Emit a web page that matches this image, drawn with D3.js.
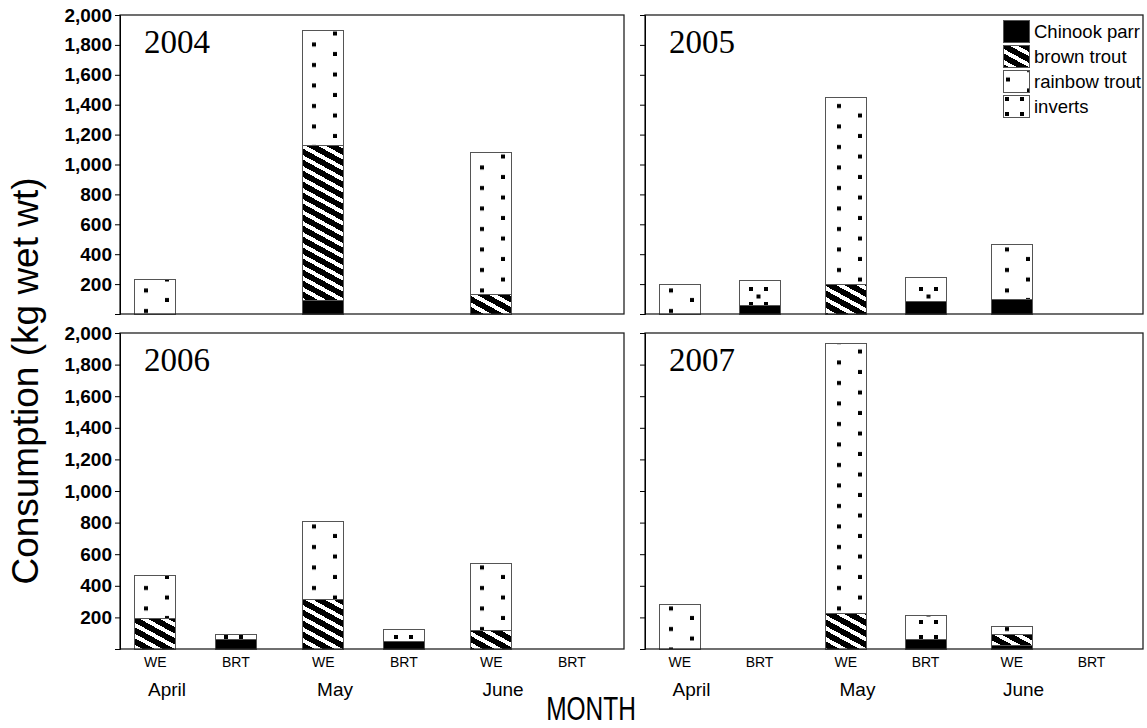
<!DOCTYPE html>
<html><head><meta charset="utf-8">
<script src="https://cdn.jsdelivr.net/npm/d3@7"></script>
<style>
body{margin:0;background:#fff}
text{font-family:Arial,"Liberation Sans",sans-serif;fill:#000}
</style>
</head><body>
<svg id="c" width="1147" height="728"></svg>
<script>
// ---- data ----
const years = ["2004", "2005", "2006", "2007"];
const months = ["April", "May", "June"];
const predators = ["WE", "BRT"];
const preyTypes = ["Chinook parr", "brown trout", "rainbow trout", "inverts"];
const yTicks = [200, 400, 600, 800, 1000, 1200, 1400, 1600, 1800, 2000];
// order of each array: April WE, April BRT, May WE, May BRT, June WE, June BRT
const chinook2004 = [0, 0, 90, 0, 0, 0];
const brown2004   = [0, 0, 1040, 0, 130, 0];
const rainbow2004 = [230, 0, 765, 0, 950, 0];
const inverts2004 = [0, 0, 0, 0, 0, 0];
const chinook2005 = [0, 60, 0, 85, 95, 0];
const brown2005   = [0, 0, 200, 0, 5, 0];
const rainbow2005 = [195, 0, 1245, 0, 366, 0];
const inverts2005 = [0, 165, 0, 160, 0, 0];
const chinook2006 = [0, 62, 0, 45, 0, 0];
const brown2006   = [190, 0, 315, 0, 115, 0];
const rainbow2006 = [278, 0, 493, 0, 425, 0];
const inverts2006 = [0, 31, 0, 80, 0, 0];
const chinook2007 = [0, 0, 0, 63, 20, 0];
const brown2007   = [0, 0, 225, 0, 70, 0];
const rainbow2007 = [283, 0, 1710, 0, 55, 0];
const inverts2007 = [0, 0, 0, 146, 0, 0];

const seriesByYear = {
  "2004": [chinook2004, brown2004, rainbow2004, inverts2004],
  "2005": [chinook2005, brown2005, rainbow2005, inverts2005],
  "2006": [chinook2006, brown2006, rainbow2006, inverts2006],
  "2007": [chinook2007, brown2007, rainbow2007, inverts2007]
};

// ---- layout ----
const svg = d3.select("#c");
const panelLeft = [120, 645], panelWidth = [504, 498];
const panelTop = [15, 333], panelBottom = [314, 649];
const barW = 41;

// ---- patterns ----
const defs = svg.append("defs");
const patId = {"Chinook parr": null, "brown trout": "pBrown", "rainbow trout": "pRainbow", "inverts": "pInverts"};
// brown trout: diagonal stripes
const pb = defs.append("pattern").attr("id", "pBrown").attr("patternUnits", "userSpaceOnUse")
  .attr("width", 20).attr("height", 11);
pb.append("rect").attr("width", 20).attr("height", 11).attr("fill", "#fff");
pb.append("path").attr("d", "M0,0L20,11L20,17.5L0,6.5Z M0,-11L20,0L20,6.5L0,-4.5Z").attr("fill", "#000")
  .attr("shape-rendering", "crispEdges");
// rainbow trout: staggered dots
const pr = defs.append("pattern").attr("id", "pRainbow").attr("patternUnits", "userSpaceOnUse")
  .attr("width", 42).attr("height", 20.5);
pr.append("rect").attr("width", 42).attr("height", 20.5).attr("fill", "#fff");
pr.append("rect").attr("x", 24).attr("y", 7).attr("width", 4).attr("height", 4).attr("fill", "#000");
pr.append("rect").attr("x", 3).attr("y", 16.5).attr("width", 4).attr("height", 4).attr("fill", "#000");
// inverts: sparse X motifs
const pi = defs.append("pattern").attr("id", "pInverts").attr("patternUnits", "userSpaceOnUse")
  .attr("width", 34).attr("height", 30);
pi.append("rect").attr("width", 34).attr("height", 30).attr("fill", "#fff");
[[2,2],[17,2],[9.5,9.5],[2,17],[17,17]].forEach(p => {
  pi.append("rect").attr("x", p[0]).attr("y", p[1]).attr("width", 4).attr("height", 4).attr("fill", "#000");
});
const fillOf = k => patId[k] ? `url(#${patId[k]})` : "#000";

// ---- panels ----
years.forEach((yr, i) => {
  const col = i % 2, row = Math.floor(i / 2);
  const w = panelWidth[col], h = panelBottom[row] - panelTop[row];
  const g = svg.append("g").attr("transform", `translate(${panelLeft[col]},${panelTop[row]})`);
  const y = d3.scaleLinear().domain([0, 2000]).range([h, 0]);
  const x0 = d3.scaleBand().domain(months).range([0, w]);
  const bw = x0.bandwidth();
  const x1 = d3.scalePoint().domain(predators).range([0.21 * bw, 0.69 * bw]);
  const vals = seriesByYear[yr];
  const rows = [];
  months.forEach((m, mi) => predators.forEach((p, pi2) => {
    const idx = mi * 2 + pi2;
    const r = {month: m, pred: p};
    preyTypes.forEach((k, ki) => r[k] = vals[ki][idx]);
    rows.push(r);
  }));
  const stacked = d3.stack().keys(preyTypes)(rows);
  const cx = d => x0(d.data.month) + x1(d.data.pred);

  stacked.forEach(s => {
    g.append("g").selectAll("rect")
      .data(s.filter(d => d[1] - d[0] > 0))
      .join("rect")
      .attr("x", d => cx(d) - barW / 2)
      .attr("y", d => y(d[1]))
      .attr("width", barW)
      .attr("height", d => y(d[0]) - y(d[1]))
      .attr("fill", fillOf(s.key))
      .attr("stroke", "#555")
      .attr("stroke-width", 1)
      .attr("shape-rendering", "crispEdges");
  });

  // frame
  g.append("rect").attr("width", w).attr("height", h).attr("fill", "none")
    .attr("stroke", "#222").attr("stroke-width", 1.3);

  // y axis
  const ax = g.append("g").call(
    d3.axisLeft(y).tickValues(yTicks).tickSize(5).tickPadding(3)
      .tickFormat(col === 0 ? d3.format(",") : () => ""));
  ax.select(".domain").attr("stroke", "#000");
  ax.selectAll("text").style("font-size", "19px").style("font-weight", "bold")
    .style("font-family", "Arial, 'Liberation Sans', sans-serif");

  // year label
  g.append("text").attr("x", 24).attr("y", 38).text(yr)
    .style("font-family", "'Times New Roman','Liberation Serif',serif").style("font-size", "33px");

  // category & month labels on bottom row
  if (row === 1) {
    g.append("g").selectAll("text").data(rows).join("text")
      .attr("x", d => x0(d.month) + x1(d.pred)).attr("y", h + 18)
      .attr("text-anchor", "middle").style("font-size", "14px").text(d => d.pred);
    g.append("g").selectAll("text").data(months).join("text")
      .attr("x", m => x0(m) + 0.28 * bw).attr("y", h + 47)
      .attr("text-anchor", "middle").style("font-size", "19px").text(m => m);
  }

  // legend in 2005 panel
  if (i === 1) {
    const lg = g.append("g").attr("transform", `translate(${1003 - panelLeft[col]},${20 - panelTop[row]})`);
    preyTypes.forEach((k, ki) => {
      lg.append("rect").attr("x", 0).attr("y", ki * 25.3).attr("width", 26).attr("height", 22)
        .attr("fill", fillOf(k)).attr("stroke", "#555").attr("shape-rendering", "crispEdges");
      lg.append("text").attr("x", 31).attr("y", ki * 25.3 + 17.5).style("font-size", "18.5px").text(k);
    });
  }
});

// axis titles
svg.append("text").attr("transform", "translate(38,381) rotate(-90)").attr("text-anchor", "middle")
  .style("font-size", "37px").text("Consumption (kg wet wt)");
svg.append("text").attr("transform", "translate(591,720) scale(0.72,1)").attr("text-anchor", "middle")
  .style("font-size", "34px").text("MONTH");
</script>
</body></html>
